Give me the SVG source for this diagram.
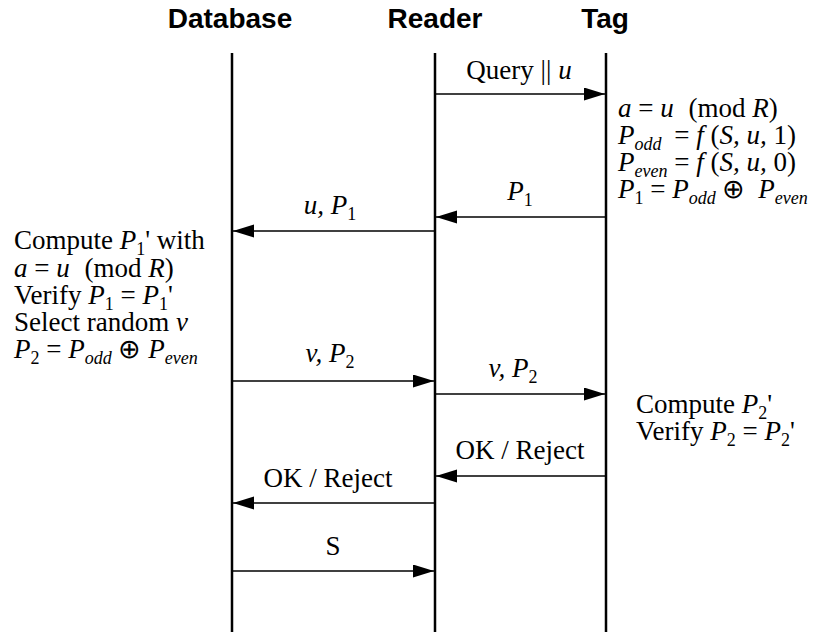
<svg xmlns="http://www.w3.org/2000/svg" width="837" height="632" viewBox="0 0 837 632">
<style>
.hd{font-family:"Liberation Sans",Arial,sans-serif;font-weight:bold;font-size:28px;text-anchor:middle;fill:#000}
.t{font-family:"Liberation Serif","Times New Roman",serif;font-size:27px;fill:#000}
.c{text-anchor:middle}
.i{font-style:italic}
.s{font-size:18px}
.life{stroke:#000;stroke-width:2.5;fill:none}
.msg{stroke:#000;stroke-width:1.5;fill:none;marker-end:url(#ah)}
</style>
<defs>
<marker id="ah" markerUnits="userSpaceOnUse" markerWidth="22" markerHeight="14" refX="21" refY="6.5" orient="auto">
<path d="M0,0 L21,6.5 L0,13 Z" fill="#000"/>
</marker>
</defs>
<rect width="837" height="632" fill="#fff"/>
<g id="database">
<text class="hd" x="230" y="28">Database</text>
<line class="life" x1="232" y1="53" x2="232" y2="632"/>
</g>
<g id="reader">
<text class="hd" x="435" y="28">Reader</text>
<line class="life" x1="435" y1="53" x2="435" y2="632"/>
</g>
<g id="tag">
<text class="hd" x="605" y="28">Tag</text>
<line class="life" x1="606" y1="53" x2="606" y2="632"/>
</g>
<g id="connectors">
<line class="msg" x1="435" y1="94" x2="605" y2="94"/>
<line class="msg" x1="606" y1="217" x2="436" y2="217"/>
<line class="msg" x1="435" y1="231" x2="233" y2="231"/>
<line class="msg" x1="232" y1="381" x2="434" y2="381"/>
<line class="msg" x1="435" y1="394" x2="605" y2="394"/>
<line class="msg" x1="606" y1="476" x2="436" y2="476"/>
<line class="msg" x1="435" y1="503" x2="233" y2="503"/>
<line class="msg" x1="232" y1="571" x2="434" y2="571"/>
</g>
<g id="labels">
<text class="t c" x="519" y="79">Query || <tspan class="i">u</tspan></text>
<text class="t c" x="520" y="200"><tspan class="i">P</tspan><tspan class="s" dy="6">1</tspan></text>
<text class="t c" x="330" y="214"><tspan class="i">u, P</tspan><tspan class="s" dy="6">1</tspan></text>
<text class="t c" x="330" y="362"><tspan class="i">v, P</tspan><tspan class="s" dy="6">2</tspan></text>
<text class="t c" x="513" y="377"><tspan class="i">v, P</tspan><tspan class="s" dy="6">2</tspan></text>
<text class="t c" x="520" y="459">OK / Reject</text>
<text class="t c" x="328" y="487">OK / Reject</text>
<text class="t c" x="333" y="555">S</text>
</g>
<g id="tag-notes">
<text class="t" x="618" y="117"><tspan class="i">a</tspan> = <tspan class="i">u</tspan><tspan dx="8"> (mod </tspan><tspan class="i">R</tspan>)</text>
<text class="t" x="618" y="144"><tspan class="i">P</tspan><tspan class="s i" dy="6">odd</tspan><tspan dy="-6" dx="6"> = </tspan><tspan class="i">f</tspan> (<tspan class="i">S, u,</tspan> 1)</text>
<text class="t" x="618" y="171"><tspan class="i">P</tspan><tspan class="s i" dy="6">even</tspan><tspan dy="-6"> = </tspan><tspan class="i">f</tspan> (<tspan class="i">S, u,</tspan> 0)</text>
<text class="t" x="618" y="198"><tspan class="i">P</tspan><tspan class="s" dy="6">1</tspan><tspan dy="-6"> = </tspan><tspan class="i">P</tspan><tspan class="s i" dy="6">odd</tspan><tspan dy="-6"> ⊕ </tspan><tspan class="i" dx="6">P</tspan><tspan class="s i" dy="6">even</tspan></text>
<text class="t" x="636" y="413">Compute <tspan class="i">P</tspan><tspan class="s" dy="6">2</tspan><tspan dy="-6">'</tspan></text>
<text class="t" x="636" y="440">Verify <tspan class="i">P</tspan><tspan class="s" dy="6">2</tspan><tspan dy="-6"> = </tspan><tspan class="i">P</tspan><tspan class="s" dy="6">2</tspan><tspan dy="-6">'</tspan></text>
</g>
<g id="db-notes">
<text class="t" x="14" y="249">Compute <tspan class="i">P</tspan><tspan class="s" dy="6">1</tspan><tspan dy="-6">' with</tspan></text>
<text class="t" x="14" y="277"><tspan class="i">a</tspan> = <tspan class="i">u</tspan><tspan dx="8"> (mod </tspan><tspan class="i">R</tspan>)</text>
<text class="t" x="14" y="304">Verify <tspan class="i">P</tspan><tspan class="s" dy="6">1</tspan><tspan dy="-6"> = </tspan><tspan class="i">P</tspan><tspan class="s" dy="6">1</tspan><tspan dy="-6">'</tspan></text>
<text class="t" x="14" y="331">Select random <tspan class="i">v</tspan></text>
<text class="t" x="14" y="358"><tspan class="i">P</tspan><tspan class="s" dy="6">2</tspan><tspan dy="-6"> = </tspan><tspan class="i">P</tspan><tspan class="s i" dy="6">odd</tspan><tspan dy="-6"> ⊕ </tspan><tspan class="i">P</tspan><tspan class="s i" dy="6">even</tspan></text>
</g>
</svg>
